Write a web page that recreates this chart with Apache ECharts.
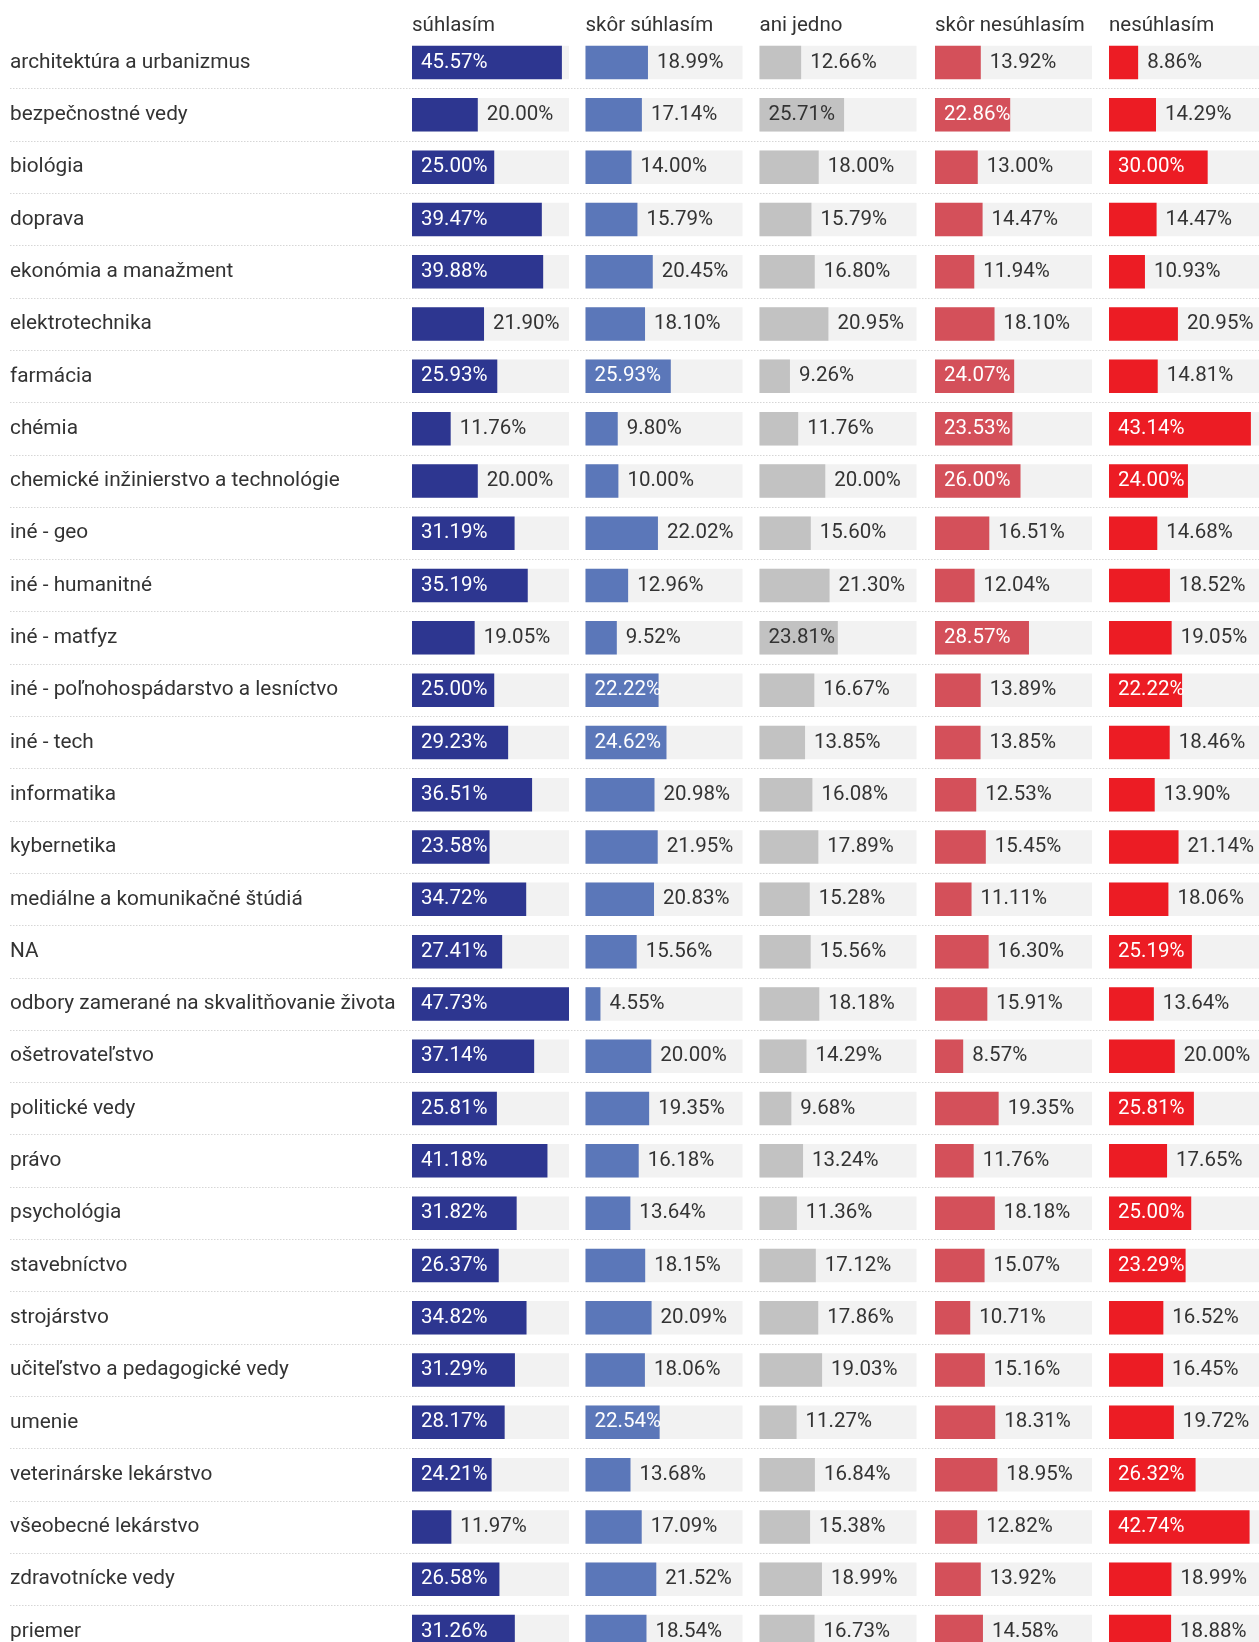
<!DOCTYPE html>
<html><head><meta charset="utf-8">
<script src="https://cdn.jsdelivr.net/npm/echarts@6/dist/echarts.min.js"></script>
<style>html,body{margin:0;padding:0;background:#fff}#c{width:1259px;height:1642px}</style>
</head><body><div id="c"></div>
<script>
const categories = [
  'architektúra a urbanizmus','bezpečnostné vedy','biológia','doprava','ekonómia a manažment',
  'elektrotechnika','farmácia','chémia','chemické inžinierstvo a technológie','iné - geo',
  'iné - humanitné','iné - matfyz','iné - poľnohospádarstvo a lesníctvo','iné - tech','informatika',
  'kybernetika','mediálne a komunikačné štúdiá','NA','odbory zamerané na skvalitňovanie života','ošetrovateľstvo',
  'politické vedy','právo','psychológia','stavebníctvo','strojárstvo',
  'učiteľstvo a pedagogické vedy','umenie','veterinárske lekárstvo','všeobecné lekárstvo','zdravotnícke vedy',
  'priemer'
];
const columnNames = ['súhlasím','skôr súhlasím','ani jedno','skôr nesúhlasím','nesúhlasím'];
const suhlasim = [45.57,20.00,25.00,39.47,39.88,21.90,25.93,11.76,20.00,31.19,35.19,19.05,25.00,29.23,36.51,23.58,34.72,27.41,47.73,37.14,25.81,41.18,31.82,26.37,34.82,31.29,28.17,24.21,11.97,26.58,31.26];
const skorSuhlasim = [18.99,17.14,14.00,15.79,20.45,18.10,25.93,9.80,10.00,22.02,12.96,9.52,22.22,24.62,20.98,21.95,20.83,15.56,4.55,20.00,19.35,16.18,13.64,18.15,20.09,18.06,22.54,13.68,17.09,21.52,18.54];
const aniJedno = [12.66,25.71,18.00,15.79,16.80,20.95,9.26,11.76,20.00,15.60,21.30,23.81,16.67,13.85,16.08,17.89,15.28,15.56,18.18,14.29,9.68,13.24,11.36,17.12,17.86,19.03,11.27,16.84,15.38,18.99,16.73];
const skorNesuhlasim = [13.92,22.86,13.00,14.47,11.94,18.10,24.07,23.53,26.00,16.51,12.04,28.57,13.89,13.85,12.53,15.45,11.11,16.30,15.91,8.57,19.35,11.76,18.18,15.07,10.71,15.16,18.31,18.95,12.82,13.92,14.58];
const nesuhlasim = [8.86,14.29,30.00,14.47,10.93,20.95,14.81,43.14,24.00,14.68,18.52,19.05,22.22,18.46,13.90,21.14,18.06,25.19,13.64,20.00,25.81,17.65,25.00,23.29,16.52,16.45,19.72,26.32,42.74,18.99,18.88];

const columns = [suhlasim, skorSuhlasim, aniJedno, skorNesuhlasim, nesuhlasim];
const colors = ['#2d3690','#5b77b9','#c2c2c2','#d4505a','#ec1c24'];
const insideTextColor = ['#ffffff','#ffffff','#333333','#ffffff','#ffffff'];
const colLeft = [412, 585.5, 759.5, 935, 1109];
const colWidth = 157;
const rowH = 52.3;
const gridTop = 36.4;
const gridH = rowH * categories.length;
const maxV = Math.max(...columns.flat());
const FONT = 'Roboto';
const FS_CAT = 20.8;
const FS_VAL = 20.5;
const FS_HEAD = 20.5;
const TXT = '#333333';

const chart = echarts.init(document.getElementById('c'), null, {renderer: 'canvas'});

const grids = [{left: 10, width: 1249, top: gridTop, height: gridH, outerBoundsMode: 'none', containLabel: false}];
const xAxes = [{gridIndex: 0, type: 'value', show: false}];
const yAxes = [{
  gridIndex: 0, type: 'category', inverse: true, data: categories,
  axisLine: {show: false}, axisTick: {show: false},
  axisLabel: {inside: true, margin: 0, align: 'left', color: TXT, fontSize: FS_CAT, fontFamily: FONT},
  splitLine: {show: true, interval: function (i) { return i > 0; }, lineStyle: {color: '#d6d6d6', type: [1.5, 1.5], width: 1}}
}];
const series = [];
const graphics = [];

columns.forEach((vals, i) => {
  const gi = i + 1;
  grids.push({left: colLeft[i], width: colWidth, top: gridTop, height: gridH, outerBoundsMode: 'none', containLabel: false});
  xAxes.push({gridIndex: gi, type: 'value', min: 0, max: maxV, show: false});
  yAxes.push({gridIndex: gi, type: 'category', inverse: true, data: categories, show: false});
  series.push({
    type: 'bar', xAxisIndex: gi, yAxisIndex: gi, barWidth: 33.5,
    showBackground: true, backgroundStyle: {color: '#f2f2f2'},
    itemStyle: {color: colors[i]},
    data: vals.map(v => {
      const inside = v > 22.1;
      return {
        value: v,
        label: {
          show: true, position: inside ? 'insideLeft' : 'right', distance: 9,
          color: inside ? insideTextColor[i] : TXT, fontSize: FS_VAL, fontFamily: FONT,
          formatter: p => p.value.toFixed(2) + '%'
        }
      };
    })
  });
  graphics.push({type: 'text', x: colLeft[i], y: 26,
    style: {text: columnNames[i], fill: TXT, font: FS_HEAD + 'px ' + FONT, verticalAlign: 'middle', align: 'left'}});
});

chart.setOption({
  animation: false,
  backgroundColor: '#ffffff',
  graphic: graphics,
  grid: grids, xAxis: xAxes, yAxis: yAxes, series: series
});
</script></body></html>
